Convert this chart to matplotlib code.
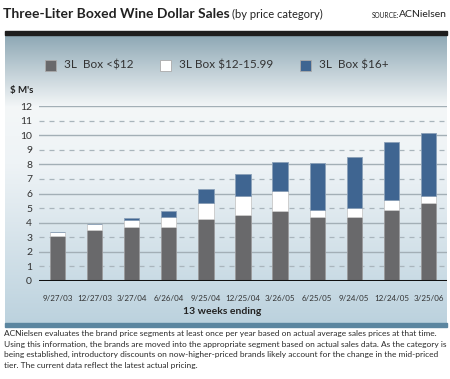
import numpy as np
import matplotlib.pyplot as plt
from matplotlib.colors import LinearSegmentedColormap
from matplotlib.patches import Rectangle

plt.rcParams['font.family'] = ['Lato', 'DejaVu Sans']

# quarter end dates
dates = ["9/27/03", "12/27/03", "3/27/04", "6/26/04", "9/25/04", "12/25/04",
         "3/26/05", "6/25/05", "9/24/05", "12/24/05", "3/25/06"]
# dollar sales, $ millions, per price segment
low = [3.10, 3.50, 3.72, 3.72, 4.25, 4.52, 4.82, 4.40, 4.40, 4.88, 5.35]
mid = [0.23, 0.38, 0.46, 0.68, 1.13, 1.33, 1.37, 0.46, 0.58, 0.65, 0.50]
high = [0.00, 0.00, 0.14, 0.42, 0.94, 1.46, 1.96, 3.22, 3.52, 4.00, 4.30]
labels = ["3L  Box <$12", "3L Box $12-15.99", "3L  Box $16+"]
colors = ["#69696b", "#ffffff", "#3f6591"]

W, H = 450, 379
fig = plt.figure(figsize=(W / 100, H / 100), dpi=100)

# panel background with gradient
bg = fig.add_axes([5 / W, 1 - 323 / H, 442 / W, 288 / H])
cmap = LinearSegmentedColormap.from_list(
    "panel", [(0, "#8ea8b5"), (0.25, "#f4f7f8"), (0.45, "#eef3f6"), (1, "#bcd2de")])
grad = np.linspace(0, 1, 256).reshape(-1, 1)
bg.imshow(grad, aspect="auto", cmap=cmap, extent=[0, 1, 1, 0])
bg.set_xlim(0, 1)
bg.set_ylim(1, 0)
bg.axis("off")

# black rule under the title and blue rule under the panel
fig.patches.append(Rectangle((5 / W, 1 - 35 / H), 442 / W, 4 / H,
                             transform=fig.transFigure, color="#1e1e1e"))
fig.patches.append(Rectangle((5 / W, 1 - 327 / H), 442 / W, 4 / H,
                             transform=fig.transFigure, color="#5b86a0"))

ax = fig.add_axes([39 / W, 1 - 281 / H, 408 / W, 175 / H])
ax.patch.set_alpha(0)
x = np.arange(len(dates))
w = 0.41
ax.bar(x, low, w, color=colors[0], edgecolor="#9a9a9c", linewidth=0.6, zorder=3)
ax.bar(x, mid, w, bottom=low, color=colors[1], edgecolor="#c8c8c8", linewidth=0.6, zorder=3)
bottom2 = np.array(low) + np.array(mid)
ax.bar(x, high, w, bottom=bottom2, color=colors[2], edgecolor="#8aa0b8", linewidth=0.6, zorder=3)

for v in range(1, 13):
    if v % 2 == 0:
        ax.axhline(v, color="#a3afb6", lw=1.0, zorder=1)
    else:
        ax.axhline(v, color="#a9b5bc", lw=0.9, ls=(0, (4, 4)), zorder=1)
ax.axhline(0, color="#111111", lw=2.2, zorder=4)

ax.set_xlim(-0.5, 10.5)
ax.set_ylim(0, 12)
ax.set_yticks(range(13))
ax.set_xticks(x)
ax.set_xticklabels(dates)
ax.tick_params(axis="y", length=0, labelsize=7.5, colors="#333333", pad=5)
ax.tick_params(axis="x", length=0, labelsize=5.8, colors="#333333", pad=10)
for s in ax.spines.values():
    s.set_visible(False)

# legend drawn by hand in figure coords
leg_items = [(45, labels[0]), (160, labels[1]), (300, labels[2])]
for (lx, lab), c in zip(leg_items, colors):
    fig.patches.append(Rectangle((lx / W, 1 - 71 / H), 11 / W, 11 / H,
                                 transform=fig.transFigure, facecolor=c,
                                 edgecolor="#aaaaaa", linewidth=0.6))
    fig.text((lx + 19) / W, 1 - 65.5 / H, lab, fontsize=8.5, va="center", color="#333333")

fig.text(10 / W, 1 - 91 / H, "$ M's", fontsize=7, fontweight="bold", va="center", color="#222222")
fig.text(222 / W, 1 - 312 / H, "13 weeks ending", fontsize=7.5, fontweight="bold",
         ha="center", va="center", color="#222222")

fig.text(3 / W, 1 - 14 / H, "Three-Liter Boxed Wine Dollar Sales", fontsize=10,
         fontweight="bold", va="center", color="#222222")
fig.text(232 / W, 1 - 14.5 / H, "(by price category)", fontsize=8, va="center", color="#222222")
fig.text(447 / W, 1 - 14.5 / H, "ACNielsen", fontsize=7.5, ha="right", va="center", color="#222222")
fig.text(399 / W, 1 - 15 / H, "SOURCE:", fontsize=4.8, ha="right", va="center", color="#222222")

note = ("ACNielsen evaluates the brand price segments at least once per year based on actual average sales prices at that time.\n"
        "Using this information, the brands are moved into the appropriate segment based on actual sales data. As the category is\n"
        "being established, introductory discounts on now-higher-priced brands likely account for the change in the mid-priced\n"
        "tier. The current data reflect the latest actual pricing.")
fig.text(4 / W, 1 - 330 / H, note, fontsize=6.0, va="top", linespacing=1.6, color="#2a2a2a")

fig.savefig("out.png", dpi=100)
